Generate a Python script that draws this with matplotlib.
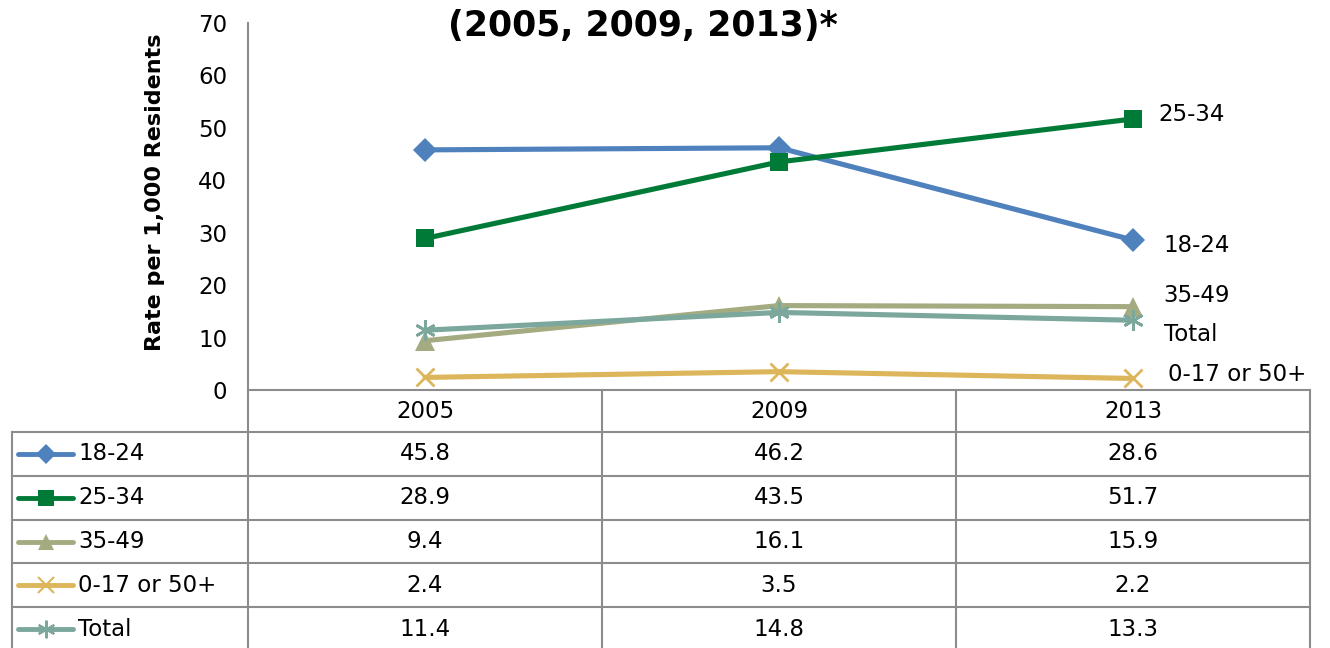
import matplotlib.pyplot as plt
from matplotlib.transforms import blended_transform_factory

# Data
years = ['2005', '2009', '2013']
groups = ['18-24', '25-34', '35-49', '0-17 or 50+', 'Total']
rate_18_24 = [45.8, 46.2, 28.6]
rate_25_34 = [28.9, 43.5, 51.7]
rate_35_49 = [9.4, 16.1, 15.9]
rate_other = [2.4, 3.5, 2.2]
rate_total = [11.4, 14.8, 13.3]
series = [rate_18_24, rate_25_34, rate_35_49, rate_other, rate_total]

# Styles
colors = ['#4F81BD', '#007A37', '#A5AB81', '#DDB55A', '#7BA79D']
markers = ['D', 's', '^', 'x', (6, 2, 0)]
msizes = [12, 13, 14, 13, 15]
# offsets (points) of the end labels from the last point
label_offsets = [(22, -4), (18, 3), (22, 8), (25, 3), (22, -10)]

W, H = 1330, 648
grid_color = '#8C8C8C'
fs = 16.5

fig = plt.figure(figsize=(W / 100, H / 100), dpi=100)

# table layer in pixel coordinates
tab = fig.add_axes([0, 0, 1, 1], zorder=0)
tab.set_xlim(0, W)
tab.set_ylim(H, 0)
tab.axis('off')

ax = fig.add_axes([248 / W, 1 - 390 / H, 1062 / W, 367 / H], zorder=1)
ax.patch.set_alpha(0)
x = list(range(len(years)))
for vals, name, c, m, ms, off in zip(series, groups, colors, markers, msizes, label_offsets):
    ax.plot(x, vals, color=c, lw=3.7, marker=m, markersize=ms,
            markeredgewidth=2 if m in ('x', (6, 2, 0)) else 0,
            markeredgecolor=c, solid_capstyle='round', clip_on=False)
    ax.annotate(name, (x[-1], vals[-1]), xytext=off, textcoords='offset points',
                fontsize=fs, va='center', ha='left')

ax.set_xlim(-0.5, 2.5)
ax.set_ylim(0, 70)
ax.set_yticks(range(0, 71, 10))
ax.set_xticks([])
ax.tick_params(axis='y', length=0, pad=15, labelsize=fs)
for s in ['top', 'right']:
    ax.spines[s].set_visible(False)
for s in ['left', 'bottom']:
    ax.spines[s].set_color(grid_color)
    ax.spines[s].set_linewidth(1.5)
ax.set_ylabel('Rate per 1,000 Residents', fontsize=16, fontweight='bold')
ax.yaxis.set_label_coords(-0.078, 0.54)

fig.text(643 / W, 1 - 36 / H, '(2005, 2009, 2013)*', ha='center', va='baseline',
         fontsize=25, fontweight='bold')

# data table under the chart
tr = blended_transform_factory(ax.transData, tab.transData)
row_edges = [390, 432, 476, 520, 563, 607, 651]
row_mid = [(a + b) / 2 for a, b in zip(row_edges[:-1], row_edges[1:])]

for y in row_edges[1:-1]:
    tab.plot([12, 248], [y, y], color=grid_color, lw=1.5)
    ax.plot([-0.5, 2.5], [y, y], color=grid_color, lw=1.5, transform=tr, clip_on=False)
tab.plot([12, 12], [432, 651], color=grid_color, lw=1.5)
tab.plot([248, 248], [390, 651], color=grid_color, lw=1.5)
for xb in [0.5, 1.5, 2.5]:
    ax.plot([xb, xb], [390, 651], color=grid_color, lw=1.5, transform=tr, clip_on=False)

for i, yr in enumerate(years):
    ax.text(i, row_mid[0], yr, transform=tr, ha='center', va='center', fontsize=fs)

for r, (vals, name, c, m, ms) in enumerate(zip(series, groups, colors, markers, msizes)):
    yc = row_mid[r + 1]
    tab.plot([18, 73], [yc, yc], color=c, lw=3.5, solid_capstyle='round')
    tab.plot([45.5], [yc], color=c, marker=m, markersize=ms * 0.85,
             markeredgewidth=1.5 if m in ('x', (6, 2, 0)) else 0, markeredgecolor=c)
    tab.text(78, yc, name, ha='left', va='center', fontsize=fs)
    for i, v in enumerate(vals):
        ax.text(i, yc, f'{v:.1f}', transform=tr, ha='center', va='center', fontsize=fs)

fig.savefig('out.png', dpi=100)
